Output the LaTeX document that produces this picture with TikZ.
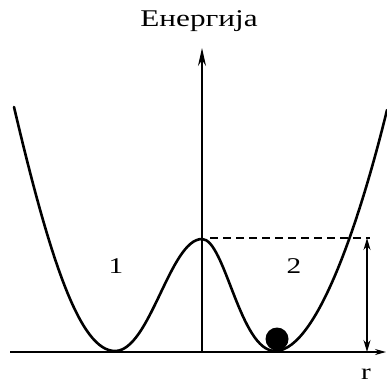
\documentclass[tikz,border=0pt]{standalone}
\usepackage{fontspec}
\setmainfont{Liberation Serif}[FakeStretch=1.3]
\usetikzlibrary{arrows.meta}

\begin{document}
\begin{tikzpicture}[x=1pt,y=-1pt,
 axis/.style={line width=1.3pt,-{Stealth[length=18pt,width=8pt]}},
 curve/.style={line width=2.6pt,line cap=round},
 lbl/.style={font=\fontsize{22.5}{26}\selectfont,inner sep=0pt}]
\useasboundingbox (0,0) rectangle (387,383);
\coordinate (origin) at (202,352);
\coordinate (yend) at (202,48);
\coordinate (xstart) at (10,352);
\coordinate (xend) at (386,352);
\coordinate (peak) at (202,239);
\coordinate (lvltop) at (367,238);
\coordinate (lvlbase) at (367,352);
\draw[axis] (origin) -- (yend);
\draw[line width=1.3pt,-{Stealth[length=11pt,width=6pt]}] (xstart) -- (xend);
\draw[curve] (14,107) .. controls (50,260) and (80,351) .. (115,351)
 .. controls (150,351) and (170,239) .. (peak)
 .. controls (225,239) and (240,351) .. (275,351)
 .. controls (320,351) and (365,200) .. (387,110);
\draw[line width=1.3pt,dash pattern=on 8pt off 5pt] ([xshift=8pt]peak |- lvltop) -- ([xshift=3pt]lvltop);
\draw[line width=1.3pt,{Stealth[length=12pt,width=7pt]}-{Stealth[length=12pt,width=7pt]}] (lvltop) -- (lvlbase);
\fill (277,339) circle (11.5pt);
\node[lbl,font=\fontsize{24}{28}\selectfont] (title) at (199,21) {Енергија};
\node[lbl] (well1) at (116,266) {1};
\node[lbl] (well2) at (294,266) {2};
\node[lbl] (rlabel) at (366,374) {r};
\end{tikzpicture}
\end{document}
